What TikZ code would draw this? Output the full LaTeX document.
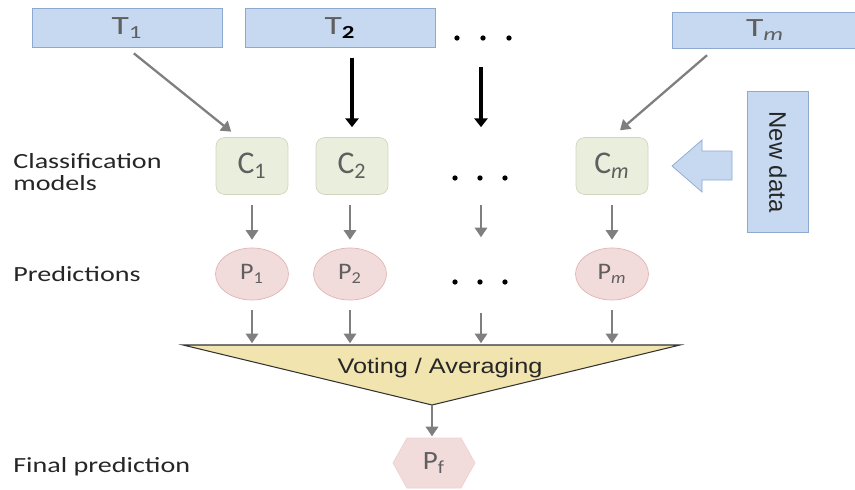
\documentclass[tikz,border=0pt]{standalone}
\usepackage{fontspec}
\setmainfont{Carlito}
\newfontfamily\lblfont[FakeStretch=1.3]{Carlito}
\newfontfamily\tfont[FakeStretch=1.35]{Carlito}
\newfontfamily\pfont[FakeStretch=1.1]{Carlito}
\newfontfamily\votefont[FakeStretch=1.2]{Liberation Sans}
\newfontfamily\arialfont{Liberation Sans}
\usetikzlibrary{arrows.meta,shapes.geometric}

\definecolor{tfill}{HTML}{C6D9F1}
\definecolor{tline}{HTML}{8EA9CF}
\definecolor{cfill}{HTML}{EAEEDC}
\definecolor{cline}{HTML}{D0D5BE}
\definecolor{pfill}{HTML}{F2DCDB}
\definecolor{pline}{HTML}{E0B4B3}
\definecolor{vfill}{HTML}{F1E4AF}
\definecolor{boxtext}{HTML}{5F5F5F}
\definecolor{arrgray}{HTML}{7F7F7F}

\begin{document}
\begin{tikzpicture}[x=0.02cm,y=-0.02cm,
  tbox/.style={draw=tline,fill=tfill,minimum width=3.8cm,minimum height=0.78cm,inner sep=0pt,text=boxtext,font=\tfont\fontsize{15}{17}\selectfont},
  cbox/.style={draw=cline,fill=cfill,rounded corners=5pt,minimum width=1.44cm,minimum height=1.14cm,inner sep=0pt,text=boxtext,font=\fontsize{18}{20}\selectfont},
  pnode/.style={ellipse,draw=pline,fill=pfill,minimum width=1.46cm,minimum height=1.04cm,inner sep=0pt,text=boxtext,font=\pfont\fontsize{13.5}{15}\selectfont},
  ghost/.style={minimum width=1.44cm,minimum height=1.14cm,inner sep=0pt},
  lbl/.style={anchor=west,align=left,inner sep=0pt,text=black!85,font=\lblfont\fontsize{12.3}{13}\selectfont},
  grayarr/.style={-{Triangle[length=5.5pt,width=7pt]},line width=1.3pt,draw=arrgray,fill=arrgray},
  blackarr/.style={-{Triangle[length=5pt,width=7.5pt]},line width=2.4pt,shorten <=5.7pt,shorten >=5.7pt}
]
\useasboundingbox (0,0) rectangle (855,490);

% training sets
\node[tbox] (T1) at (127,28) {T\textsubscript{1}};
\node[tbox] (T2) at (340,28) {T\textsubscript{\bfseries\color{black}2}};
\node[ghost] (Td) at (483,28) {};
\node[tbox,minimum width=3.7cm,minimum height=0.72cm] (Tm) at (765,30) {T\textsubscript{\itshape m}};

% models
\node[cbox] (C1) at (252,166) {C\textsubscript{1}};
\node[cbox] (C2) at (352,166) {C\textsubscript{2}};
\node[ghost] (Cd) at (481,166) {};
\node[cbox] (Cm) at (612,166) {C\textsubscript{\itshape m}};

% predictions
\node[pnode] (P1) at (252,274) {P\textsubscript{1}};
\node[pnode] (P2) at (350,274) {P\textsubscript{2}};
\node[ghost] (Pd) at (481,274) {};
\node[pnode] (Pm) at (612,274) {P\textsubscript{\itshape m}};

% dots
\foreach \x in {457,483,509}
{
\fill (\x,38) circle (1.5pt);
}
\foreach \x in {455,480,505}
{
\fill (\x,178) circle (1.5pt);
\fill (\x,282) circle (1.5pt);
}

% row labels
\node[lbl] (lblC) at (13,172) {Classification\\models};
\node[lbl] (lblP) at (13,274) {Predictions};
\node[lbl] (lblF) at (13,467) {Final prediction};

% new data
\node[draw=tline,fill=tfill,minimum width=2.82cm,minimum height=1.22cm,inner sep=0pt,rotate=-90,font=\arialfont\fontsize{13.6}{15}\selectfont,text=black!85] (New) at (778,162) {New data};
\filldraw[fill=tfill,draw=tline] (672,166) -- (702,140) -- (702,151) -- (732,151) -- (732,180) -- (702,180) -- (702,192) -- cycle;

% voting
\coordinate (VL) at (183,345);
\coordinate (VR) at (680,345);
\coordinate (VB) at (432,405);
\filldraw[fill=vfill,draw=black!80,line width=0.6pt] (VL) -- (VR) -- (VB) -- cycle;
\node[font=\votefont\fontsize{12}{14}\selectfont,text=black!85] (Vote) at (440,368) {Voting / Averaging};

% final
\filldraw[fill=pfill,draw=pline!60] (393,463) -- (407,438) -- (461,438) -- (475,463) -- (461,488) -- (407,488) -- cycle;
\node[text=boxtext,font=\pfont\fontsize{15}{17}\selectfont] (Pf) at (434,463) {P\textsubscript{f}};

% arrows
\draw[grayarr,shorten <=5pt,shorten >=5pt] (T1.south) -- ([xshift=-0.28cm]C1.north);
\draw[blackarr] (T2.south -| C2.north) -- (C2.north);
\draw[blackarr] (Cd.north |- Td.south) -- (Cd.north);
\draw[grayarr,shorten <=6pt,shorten >=6pt] ([xshift=-1cm]Tm.south) -- (Cm.north);
\foreach \a/\b in {C1/P1,C2/P2,Cd/Pd,Cm/Pm}
{
\draw[grayarr,shorten <=6pt,shorten >=4.5pt] (\b.north |- \a.south) -- (\b.north);
\draw[grayarr,shorten <=5.7pt,shorten >=1pt] (\b.south) -- (\b.south |- VL);
}
\draw[grayarr,shorten >=5.7pt] (VB) -- (VB |- Pf.north);
\end{tikzpicture}
\end{document}
